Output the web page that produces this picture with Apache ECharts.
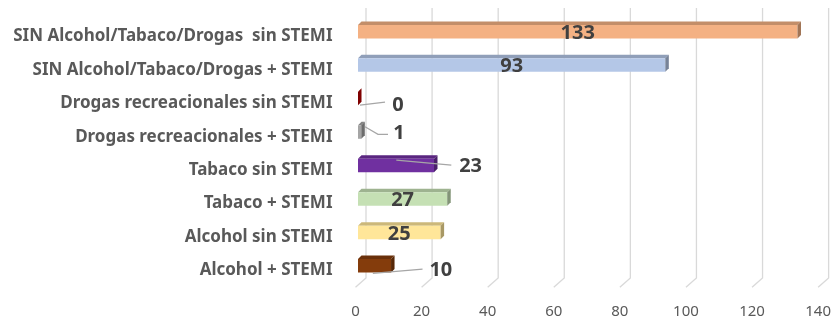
<!DOCTYPE html>
<html>
<head>
<meta charset="utf-8">
<script src="https://cdn.jsdelivr.net/npm/echarts@6/dist/echarts.min.js"></script>
<style>
  html, body { margin: 0; padding: 0; background: #ffffff; }
  #chart { width: 834px; height: 321px; }
</style>
</head>
<body>
<div id="chart"></div>
<script>
// Categories, top to bottom
const categories = [
  'SIN Alcohol/Tabaco/Drogas  sin STEMI',
  'SIN Alcohol/Tabaco/Drogas + STEMI',
  'Drogas recreacionales sin STEMI',
  'Drogas recreacionales + STEMI',
  'Tabaco sin STEMI',
  'Tabaco + STEMI',
  'Alcohol sin STEMI',
  'Alcohol + STEMI'
];
// Patient counts for each category
const counts = [133, 93, 0, 1, 23, 27, 25, 10];
// Value axis ticks
const axisTicks = [0, 20, 40, 60, 80, 100, 120, 140];

// Face colour for each bar
const barColors = ['#F4B183', '#B4C7E7', '#C00000', '#A5A5A5', '#7030A0', '#C5E0B4', '#FFE699', '#843C0C'];

// Leader-line callouts for short bars (offsets in px from the bar end / row centre)
const callouts = {
  2: { label: [40, 1.8], line: [[2, 1.8], [27, -1.2]] },
  3: { label: [37.7, -3.4], line: [[3.7, -10], [16.7, -2.4], [26.7, -2.4]] },
  4: { label: [36.6, -3.4], line: [[-37.7, -10.1], [17.3, -5.1]] },
  7: { label: [49.8, -0.5], line: [[-18.2, 2.8], [31.5, -1.5]] }
};

const FRONT_SHIFT = 2.5;   // bar front plane sits slightly behind the floor edge
const WALL_SHIFT = 10.5;   // back wall offset
const DEPTH = 3.5;         // bar depth
const BAR_H = 13.5;        // bar front face height
const BAR_RAISE = -4.7;    // bars sit a bit above the row centre
const TEXT_COLOR = '#404040';
const FONT = '"Noto Sans", "DejaVu Sans", sans-serif';

// darken a hex colour by a factor (0..1)
function shade(hex, f) {
  const n = parseInt(hex.slice(1), 16);
  const r = Math.round(((n >> 16) & 255) * f);
  const g = Math.round(((n >> 8) & 255) * f);
  const b = Math.round((n & 255) * f);
  return 'rgb(' + r + ',' + g + ',' + b + ')';
}

const chart = echarts.init(document.getElementById('chart'), null, { renderer: 'canvas' });

function renderBar(params, api) {
  const v = api.value(0);
  const idx = api.value(1);
  const base = api.coord([0, idx]);
  const end = api.coord([v, idx]);
  const c = base[1];
  const x0 = base[0] + FRONT_SHIFT;
  const x1 = end[0] + FRONT_SHIFT;
  const yc = c + BAR_RAISE;
  const yt = yc - BAR_H / 2;
  const yb = yc + BAR_H / 2;
  const col = barColors[idx];
  const children = [
    { type: 'polygon', shape: { points: [[x0, yt], [x1, yt], [x1 + DEPTH, yt - DEPTH], [x0 + DEPTH, yt - DEPTH]] },
      style: { fill: shade(col, 0.8) } },
    { type: 'rect', shape: { x: x0, y: yt, width: x1 - x0, height: BAR_H }, style: { fill: col } },
    { type: 'polygon', shape: { points: [[x1, yt], [x1 + DEPTH, yt - DEPTH], [x1 + DEPTH, yb - DEPTH], [x1, yb]] },
      style: { fill: shade(col, 0.66) } }
  ];
  const co = callouts[idx];
  let tx, ty;
  if (co) {
    children.push({
      type: 'polyline',
      shape: { points: co.line.map(p => [x1 + p[0], c + p[1]]) },
      style: { stroke: '#A6A6A6', lineWidth: 1.2, fill: null }
    });
    tx = x1 + co.label[0];
    ty = c + co.label[1];
  } else {
    tx = (x0 + x1) / 2;
    ty = yc + 1.5;
  }
  children.push({
    type: 'text',
    style: {
      x: tx, y: ty, text: String(v), fill: TEXT_COLOR,
      font: 'bold 20px ' + FONT, align: 'center', verticalAlign: 'middle'
    }
  });
  return { type: 'group', children };
}

function renderWall(params, api) {
  const v = api.value(0);
  const rect = params.coordSys;
  const p = api.coord([v, 0]);
  const xb = p[0] + WALL_SHIFT;
  const floorY = rect.y + rect.height;
  return {
    type: 'polyline',
    shape: { points: [[xb, 8], [xb, floorY - 9.3], [p[0], floorY]] },
    style: { stroke: '#D9D9D9', lineWidth: 1.3, fill: null },
    silent: true
  };
}

chart.setOption({
  animation: false,
  backgroundColor: '#ffffff',
  grid: { left: 355.5, width: 465, top: 19.6, height: 267.7 },
  xAxis: {
    type: 'value', min: 0, max: 140, interval: 20,
    axisLine: { show: false }, axisTick: { show: false }, splitLine: { show: false },
    axisLabel: { color: '#595959', fontSize: 15, fontFamily: FONT, margin: 17 }
  },
  yAxis: {
    type: 'category', data: categories, inverse: true,
    axisLine: { show: false }, axisTick: { show: false },
    axisLabel: { color: '#595959', fontSize: 17, fontWeight: 'bold', fontFamily: FONT, margin: 23 }
  },
  series: [
    {
      type: 'custom', name: 'wall', renderItem: renderWall, z: 1,
      data: axisTicks.map(t => [t]), encode: { x: 0 }, silent: true
    },
    {
      type: 'custom', name: 'Pacientes', renderItem: renderBar, z: 2,
      data: counts.map((v, i) => [v, i]), encode: { x: 0, y: 1 }
    }
  ]
});
</script>
</body>
</html>
